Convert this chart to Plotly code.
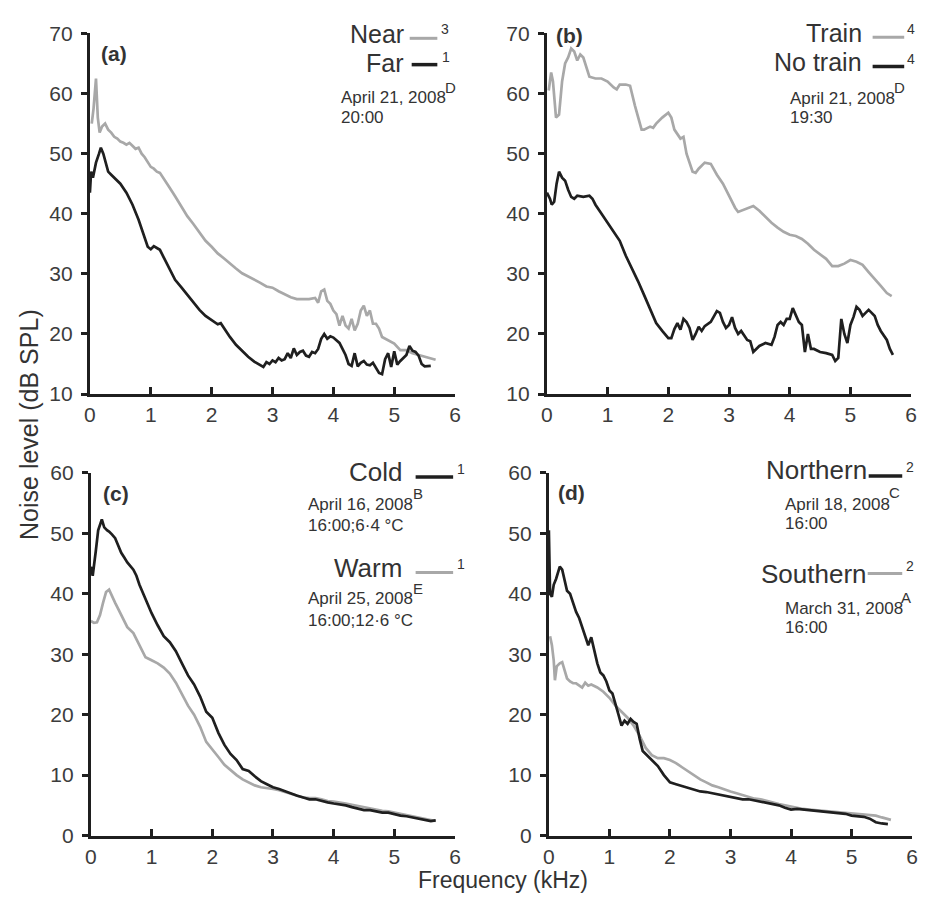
import plotly.graph_objects as go

# ---------------- data ----------------
# Panel (a)
near_f = [0.03,0.06,0.1,0.13,0.16,0.2,0.25,0.3,0.35,0.4,
          0.45,0.5,0.55,0.6,0.65,0.7,0.75,0.8,0.85,0.9,
          0.95,1.0,1.05,1.1,1.15,1.2,1.3,1.4,1.5,1.6,
          1.7,1.8,1.9,2.0,2.1,2.2,2.3,2.4,2.5,2.6,
          2.7,2.8,2.9,3.0,3.1,3.2,3.3,3.4,3.5,3.6,
          3.7,3.75,3.8,3.85,3.9,3.95,4.0,4.05,4.1,4.15,
          4.2,4.25,4.3,4.35,4.4,4.45,4.5,4.55,4.6,4.65,
          4.7,4.75,4.8,4.9,5.0,5.1,5.2,5.3,5.4,5.5,
          5.6,5.68]
near_db = [55.0,57.5,62.5,56.0,53.5,54.5,55.0,54.0,53.5,52.8,
           52.5,52.0,51.8,51.5,51.8,51.3,50.8,51.0,50.0,49.4,
           48.5,47.8,47.5,47.0,46.8,46.1,44.5,42.9,41.2,39.6,
           38.3,36.9,35.5,34.5,33.4,32.6,31.7,30.9,30.1,29.6,
           29.0,28.5,27.9,27.7,27.1,26.6,26.1,25.8,25.8,25.8,
           26.0,25.2,27.1,27.4,25.5,25.0,23.9,23.3,21.4,23.0,
           21.4,20.9,22.5,20.6,21.7,23.9,24.7,23.0,23.9,21.7,
           21.7,20.9,19.5,19.0,18.4,17.3,17.3,16.8,16.5,16.3,
           16.0,15.7]
far_f = [0.0,0.02,0.05,0.1,0.15,0.18,0.22,0.26,0.3,0.35,
         0.4,0.45,0.5,0.6,0.7,0.8,0.9,0.95,1.0,1.05,
         1.1,1.15,1.2,1.3,1.4,1.5,1.6,1.7,1.8,1.9,
         2.0,2.1,2.15,2.2,2.3,2.4,2.5,2.6,2.7,2.8,
         2.85,2.9,2.95,3.0,3.05,3.1,3.15,3.2,3.25,3.3,
         3.35,3.4,3.45,3.5,3.55,3.6,3.65,3.7,3.75,3.8,
         3.85,3.9,3.95,4.0,4.05,4.1,4.15,4.2,4.25,4.3,
         4.35,4.4,4.45,4.5,4.55,4.6,4.65,4.7,4.75,4.8,
         4.85,4.9,4.95,5.0,5.05,5.1,5.15,5.2,5.25,5.3,
         5.35,5.4,5.45,5.5,5.6]
far_db = [43.5,47.0,46.0,48.5,50.0,51.0,50.0,48.5,47.0,46.5,
          46.0,45.6,45.0,43.5,41.5,39.0,36.0,34.5,34.1,34.6,
          34.3,34.0,33.0,31.0,29.0,27.8,26.5,25.2,24.0,23.0,
          22.3,21.6,21.8,21.0,19.5,18.2,17.2,16.2,15.4,14.8,
          14.5,15.3,15.0,15.6,15.3,16.0,15.6,15.8,16.8,16.0,
          17.6,16.5,17.0,17.2,16.4,16.2,17.0,16.8,17.5,19.2,
          20.0,19.2,19.6,19.4,19.0,18.5,17.5,16.5,15.0,14.7,
          16.8,14.6,15.2,15.5,14.9,14.8,15.2,14.4,13.5,13.3,
          15.8,16.8,14.5,17.1,14.9,15.5,16.0,16.5,18.0,17.2,
          17.0,16.4,15.0,14.6,14.7]

# Panel (b)
train_f = [0.03,0.07,0.1,0.15,0.2,0.25,0.3,0.35,0.4,0.45,
           0.5,0.55,0.6,0.65,0.7,0.8,0.9,1.0,1.1,1.15,
           1.2,1.3,1.37,1.45,1.56,1.6,1.7,1.75,1.8,1.9,
           2.0,2.05,2.1,2.2,2.25,2.3,2.4,2.45,2.5,2.6,
           2.7,2.8,2.9,3.0,3.1,3.15,3.2,3.3,3.4,3.5,
           3.6,3.7,3.8,3.9,4.0,4.1,4.2,4.3,4.4,4.5,
           4.6,4.7,4.8,4.9,5.0,5.1,5.2,5.3,5.4,5.5,
           5.6,5.68]
train_db = [60.5,63.5,62.0,56.0,56.5,62.0,65.0,66.0,67.5,67.0,
            65.5,66.5,66.0,64.5,62.8,62.5,62.5,62.0,61.0,60.7,
            61.5,61.5,61.3,58.0,54.0,54.0,54.5,54.3,55.0,56.0,
            56.8,56.0,54.0,52.5,52.8,50.0,47.0,46.8,47.5,48.5,
            48.3,46.5,45.0,43.0,41.0,40.3,40.5,41.0,41.3,40.5,
            39.5,38.5,37.7,37.0,36.5,36.3,35.8,35.0,34.0,33.2,
            32.5,31.3,31.3,31.7,32.3,32.0,31.5,30.3,29.2,28.0,
            26.8,26.3]
notrain_f = [0.0,0.05,0.08,0.12,0.16,0.2,0.25,0.3,0.35,0.4,
             0.45,0.5,0.6,0.7,0.75,0.8,0.9,1.0,1.1,1.2,
             1.3,1.4,1.5,1.6,1.7,1.8,1.9,2.0,2.05,2.1,
             2.15,2.2,2.25,2.3,2.35,2.4,2.45,2.5,2.55,2.6,
             2.7,2.75,2.8,2.85,2.9,2.95,3.0,3.05,3.1,3.15,
             3.2,3.3,3.35,3.4,3.5,3.6,3.7,3.75,3.8,3.85,
             3.9,3.95,4.0,4.05,4.1,4.15,4.2,4.25,4.3,4.35,
             4.4,4.5,4.6,4.7,4.75,4.8,4.85,4.9,4.95,5.0,
             5.05,5.1,5.15,5.2,5.25,5.3,5.35,5.4,5.45,5.5,
             5.6,5.65,5.7]
notrain_db = [43.5,42.5,41.5,42.0,45.0,47.0,46.0,45.5,44.0,42.8,
              42.5,43.0,42.8,43.0,42.5,41.5,40.0,38.5,37.0,35.5,
              33.0,31.0,28.8,26.5,24.0,21.8,20.5,19.3,19.3,20.8,
              21.8,20.7,22.5,22.0,21.0,19.0,20.0,21.2,20.5,21.3,
              22.0,23.0,23.8,23.5,22.0,21.0,21.5,22.8,21.0,20.0,
              20.5,19.0,18.8,17.0,18.0,18.5,18.2,19.5,21.5,22.0,
              21.5,22.5,22.5,24.3,23.0,22.0,21.5,17.0,20.0,17.5,
              17.5,17.0,16.8,16.5,15.5,16.0,22.5,20.0,18.5,21.5,
              22.8,24.5,24.0,23.0,23.5,24.0,23.5,23.0,21.5,20.5,
              19.0,17.5,16.5]

# Panel (c)
cold_f = [0.0,0.03,0.08,0.12,0.18,0.22,0.27,0.3,0.35,0.4,
          0.45,0.5,0.55,0.6,0.7,0.75,0.8,0.9,1.0,1.1,
          1.2,1.3,1.4,1.5,1.6,1.7,1.8,1.9,2.0,
          2.1,2.2,2.3,2.4,2.5,2.6,2.7,2.8,2.9,3.0,
          3.1,3.2,3.3,3.4,3.5,3.6,3.7,3.8,3.9,4.0,
          4.1,4.2,4.3,4.4,4.5,4.6,4.7,4.8,4.9,5.0,
          5.1,5.2,5.3,5.4,5.5,5.6,5.68]
cold_db = [44.5,43.0,47.0,50.5,52.3,51.0,50.5,50.3,49.8,49.2,
           48.0,46.8,46.0,45.2,44.0,43.0,41.5,39.0,36.8,34.8,
           33.0,32.0,30.5,28.5,26.5,25.0,23.0,20.5,19.5,
           17.0,15.0,13.5,12.5,11.0,10.7,9.8,9.0,8.5,8.0,
           7.7,7.3,7.0,6.6,6.3,6.0,6.0,5.7,5.5,5.3,
           5.2,5.0,4.7,4.5,4.2,4.2,4.0,3.8,3.8,3.5,
           3.3,3.2,3.0,2.9,2.6,2.4,2.5]
warm_f = [0.0,0.05,0.1,0.15,0.2,0.25,0.3,0.35,0.4,0.45,
          0.5,0.55,0.6,0.7,0.8,0.85,0.9,1.0,
          1.1,1.2,1.3,1.4,1.5,1.6,1.7,1.8,1.9,2.0,
          2.1,2.2,2.3,2.4,2.5,2.6,2.7,2.8,2.9,3.0,
          3.1,3.2,3.3,3.4,3.5,3.6,3.7,3.8,3.9,4.0,
          4.1,4.2,4.3,4.4,4.5,4.6,4.7,4.8,4.9,5.0,
          5.1,5.2,5.3,5.4,5.5,5.6,5.68]
warm_db = [35.5,35.2,35.3,36.5,38.5,40.3,40.7,39.5,38.5,37.5,
           36.5,35.5,34.5,33.5,31.5,30.3,29.5,29.0,
           28.5,27.8,26.8,25.3,23.3,21.5,20.0,18.0,15.5,14.3,
           13.0,11.7,10.8,10.0,9.3,8.8,8.3,8.0,7.9,7.7,
           7.5,7.2,7.0,6.7,6.3,6.2,6.2,6.0,5.7,5.6,
           5.5,5.3,5.1,4.9,4.6,4.4,4.2,4.1,4.0,3.8,
           3.5,3.3,3.1,2.9,2.8,2.6,2.4]

# Panel (d)
north_f = [0.0,0.02,0.05,0.08,0.12,0.18,0.22,0.27,0.3,0.35,
           0.4,0.45,0.5,0.55,0.6,0.65,0.7,0.75,0.8,0.85,
           0.9,0.95,1.0,1.05,1.1,1.15,1.2,1.25,1.3,1.35,
           1.4,1.45,1.5,1.55,1.6,1.7,1.8,1.9,2.0,
           2.1,2.2,2.3,2.4,2.5,2.6,2.7,2.8,2.9,3.0,
           3.1,3.2,3.3,3.4,3.5,3.6,3.7,3.8,3.9,4.0,
           4.1,4.2,4.3,4.4,4.5,4.6,4.7,4.8,4.9,5.0,
           5.1,5.2,5.3,5.35,5.4,5.5,5.6]
north_db = [50.5,40.0,39.5,41.5,42.5,44.5,44.0,42.0,40.5,40.0,
            38.5,37.0,36.0,34.5,32.8,31.5,32.8,30.5,28.5,27.0,
            26.5,25.5,24.0,23.5,21.5,20.0,18.2,19.0,18.5,19.3,
            18.8,18.5,16.0,14.0,13.5,12.5,11.5,10.0,8.8,
            8.5,8.2,7.8,7.6,7.3,7.2,7.0,6.8,6.6,6.3,
            6.2,6.0,6.0,5.8,5.6,5.4,5.2,5.0,4.6,4.3,
            4.4,4.3,4.2,4.1,4.0,3.9,3.8,3.6,3.6,3.3,
            3.2,3.1,2.8,2.5,2.2,2.0,1.9]
south_f = [0.02,0.05,0.08,0.1,0.13,0.18,0.22,0.27,0.3,0.35,
           0.4,0.45,0.5,0.55,0.6,0.65,0.7,0.8,0.9,1.0,
           1.1,1.2,1.3,1.4,1.5,1.6,1.7,1.8,1.9,2.0,
           2.1,2.2,2.3,2.4,2.5,2.6,2.7,2.8,2.9,3.0,
           3.1,3.2,3.3,3.4,3.5,3.6,3.7,3.8,3.9,4.0,
           4.1,4.2,4.3,4.4,4.5,4.6,4.7,4.8,4.9,5.0,
           5.1,5.2,5.3,5.4,5.5,5.6,5.65]
south_db = [33.0,31.5,29.0,25.7,28.0,28.5,28.7,27.0,26.0,25.5,
            25.2,25.2,24.8,24.5,25.3,24.8,25.0,24.5,23.8,22.8,
            21.5,20.5,19.5,18.2,16.5,14.5,13.3,12.8,12.8,12.5,
            12.0,11.3,10.6,10.0,9.3,8.8,8.3,8.0,7.6,7.3,
            7.0,6.7,6.4,6.1,6.0,5.7,5.5,5.2,5.0,4.8,
            4.5,4.4,4.3,4.2,4.2,4.1,4.0,3.9,3.8,3.7,
            3.6,3.5,3.4,3.3,3.0,2.8,2.6]

x_ticks = [0, 1, 2, 3, 4, 5, 6]

for a, b in [(near_f, near_db), (far_f, far_db), (train_f, train_db),
             (notrain_f, notrain_db), (cold_f, cold_db), (warm_f, warm_db),
             (north_f, north_db), (south_f, south_db)]:
    assert len(a) == len(b), (len(a), len(b))

# ---------------- figure ----------------
W, H = 926, 906
GREY = "#a8a8a8"
BLACK = "#1f1f1f"
TXT = "#333333"
FONT = "Liberation Sans, Arial, sans-serif"


def fx(p):
    return p / W


def fy(p):
    return 1 - p / H


fig = go.Figure()

series = [
    ("x", "y", near_f, near_db, GREY),
    ("x", "y", far_f, far_db, BLACK),
    ("x2", "y2", train_f, train_db, GREY),
    ("x2", "y2", notrain_f, notrain_db, BLACK),
    ("x3", "y3", warm_f, warm_db, GREY),
    ("x3", "y3", cold_f, cold_db, BLACK),
    ("x4", "y4", south_f, south_db, GREY),
    ("x4", "y4", north_f, north_db, BLACK),
]
for xa, ya, xs, ys, col in series:
    fig.add_trace(go.Scatter(x=xs, y=ys, xaxis=xa, yaxis=ya, mode="lines",
                             line=dict(color=col, width=2.7),
                             showlegend=False, hoverinfo="skip"))

# panel pixel boxes: (left, right, top, bottom), y range
boxes = [
    (85, 455, 22, 392, [10, 70]),
    (548, 917, 22, 392, [10, 70]),
    (86, 455, 473, 845, [0, 60]),
    (550, 918, 473, 845, [0, 60]),
]
layout = dict(width=W, height=H, margin=dict(l=0, r=0, t=0, b=0),
              plot_bgcolor="white", paper_bgcolor="white",
              font=dict(family=FONT, color=TXT))
for i, (l, r, t, b, yr) in enumerate(boxes):
    sx = "" if i == 0 else str(i + 1)
    layout["xaxis" + sx] = dict(
        domain=[fx(l), fx(r)], range=[0, 6], tickvals=x_ticks,
        anchor="y" + sx, showline=True, linewidth=3, linecolor=BLACK,
        ticks="inside", ticklen=7, tickwidth=3, tickcolor=BLACK,
        showgrid=False, zeroline=False, ticklabelstandoff=0,
        tickfont=dict(family=FONT, size=21, color="#3c3c3c"))
    layout["yaxis" + sx] = dict(
        domain=[fy(b), fy(t)], range=yr, dtick=10,
        anchor="x" + sx, showline=True, linewidth=3, linecolor=BLACK,
        ticks="outside", ticklen=6, tickwidth=3, tickcolor=BLACK,
        showgrid=False, zeroline=False, ticklabelstandoff=4,
        tickfont=dict(family=FONT, size=21, color="#3c3c3c"))
fig.update_layout(**layout)

ann = []


def text(s, x, y, size, xanchor="left", bold=False, color=TXT):
    if bold:
        s = "<b>" + s + "</b>"
    ann.append(dict(text=s, x=fx(x), y=fy(y), xref="paper", yref="paper",
                    xanchor=xanchor, yanchor="middle", showarrow=False,
                    borderpad=0,
                    font=dict(family=FONT, size=size, color=color)))


shapes = []


def key(x0, x1, y, col, w):
    shapes.append(dict(type="line", xref="paper", yref="paper",
                       x0=fx(x0), x1=fx(x1), y0=fy(y), y1=fy(y),
                       line=dict(color=col, width=w)))


# panel letters
text("(a)", 95, 43, 21, bold=True)
text("(b)", 556, 24, 21, bold=True)
text("(c)", 97, 494, 21, bold=True)
text("(d)", 558, 493, 21, bold=True)

# (a) legend
text("Near", 404, 23, 25, xanchor="right")
key(409, 437, 27, GREY, 3)
text("3", 440, 17, 14)
text("Far", 404, 52, 25, xanchor="right")
key(411, 437, 54, BLACK, 3.5)
text("1", 441, 46, 14)
text("April 21, 2008", 338, 88, 17)
text("D", 444, 77, 15)
text("20:00", 338, 108, 17)

# (b) legend
text("Train", 868, 22, 25, xanchor="right")
key(878, 910, 26, GREY, 3)
text("4", 912, 17, 14)
text("No train", 868, 51, 25, xanchor="right")
key(878, 910, 56, BLACK, 3.5)
text("4", 912, 48, 14)
text("April 21, 2008", 793, 89, 17)
text("D", 899, 77, 15)
text("19:30", 793, 108, 17)

# (c) legend
text("Cold", 402, 472, 26, xanchor="right")
key(415, 453, 477, BLACK, 3.5)
text("1", 456, 469, 14)
text("April 16, 2008", 305, 505, 17)
text("B", 411, 494, 15)
text("16:00;6·4 °C", 305, 527, 17)
text("Warm", 402, 570, 26, xanchor="right")
key(415, 453, 575, GREY, 3)
text("1", 456, 566, 14)
text("April 25, 2008", 305, 602, 17)
text("E", 411, 592, 15)
text("16:00;12·6 °C", 305, 624, 17)

# (d) legend
text("Northern", 873, 470, 26, xanchor="right")
key(874, 908, 476, BLACK, 3.5)
text("2", 911, 467, 14)
text("April 18, 2008", 788, 505, 17)
text("C", 894, 493, 15)
text("16:00", 788, 525, 17)
text("Southern", 873, 577, 26, xanchor="right")
key(873, 908, 576, GREY, 3)
text("2", 911, 568, 14)
text("March 31, 2008", 788, 612, 17)
text("A", 906, 601, 15)
text("16:00", 788, 632, 17)

# axis titles
ann.append(dict(text="Noise level (dB SPL)", x=fx(24), y=fy(423),
                xref="paper", yref="paper", textangle=-90,
                xanchor="center", yanchor="middle", showarrow=False,
                font=dict(family=FONT, size=25, color=TXT)))
ann.append(dict(text="Frequency (kHz)", x=fx(504), y=fy(891),
                xref="paper", yref="paper", borderpad=0,
                xanchor="center", yanchor="middle", showarrow=False,
                font=dict(family=FONT, size=23, color=TXT)))

fig.update_layout(annotations=ann, shapes=shapes)
fig.write_html("out.html")
